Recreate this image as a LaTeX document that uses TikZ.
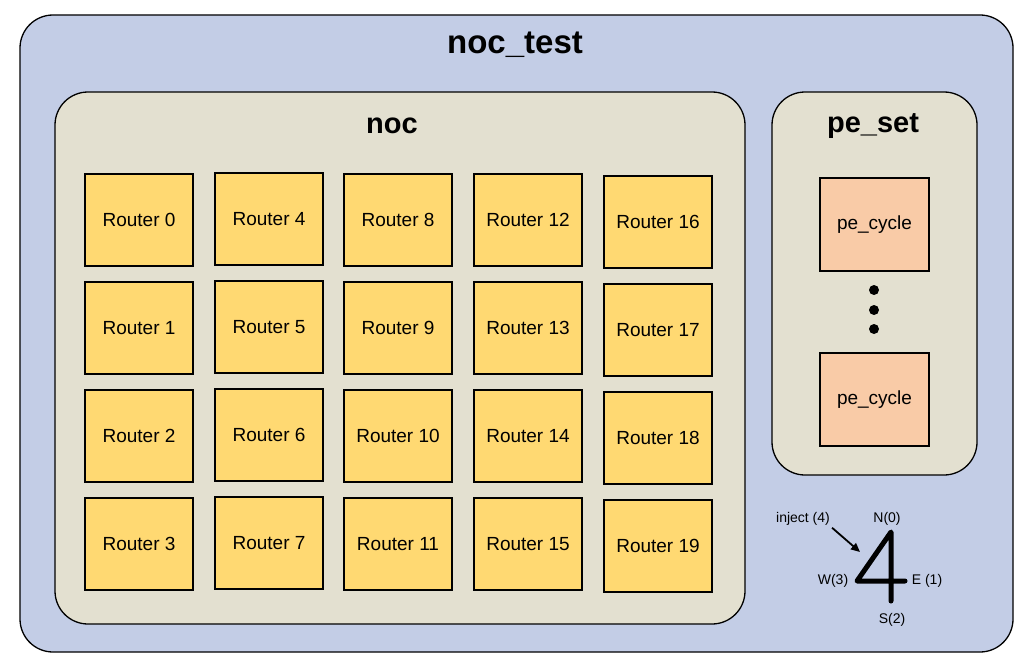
\documentclass[tikz,border=0pt]{standalone}
\usepackage{fontspec}
\setmainfont{Liberation Sans}
\usetikzlibrary{arrows.meta}
\definecolor{outerblue}{HTML}{C3CDE6}
\definecolor{beige}{HTML}{E3E0D0}
\definecolor{routerfill}{HTML}{FFD972}
\definecolor{pefill}{HTML}{F9CBA7}
\tikzset{
  container/.style={draw=black, line width=1.3pt, rounded corners=33pt},
  routerbox/.style={draw=black, line width=1.2pt, fill=routerfill, minimum width=108pt, minimum height=92pt, inner sep=0pt, font=\fontsize{19}{22}\selectfont},
  pebox/.style={draw=black, line width=1.2pt, fill=pefill, minimum width=109pt, minimum height=93pt, inner sep=0pt, font=\fontsize{19}{22}\selectfont},
  titletext/.style={font=\bfseries\fontsize{29}{34}\selectfont, inner sep=0pt},
  dotmark/.style={circle, fill=black, minimum size=10pt, inner sep=0pt},
  legendtext/.style={font=\fontsize{14}{16}\selectfont, inner sep=0pt},
  glyphline/.style={line width=5pt, line cap=round, line join=round},
}
\begin{document}
\begin{tikzpicture}[x=1pt,y=-1pt]
\useasboundingbox (0,0) rectangle (1030,666);
% containers
\draw[container, fill=outerblue] (20,15) rectangle (1013,652);
\draw[container, fill=beige] (55,92) rectangle (745,624);
\draw[container, fill=beige] (772,92) rectangle (977,475);
\node[titletext, font=\bfseries\fontsize{33}{38}\selectfont] (title) at (515,45) {noc\_test};
\node[titletext] (noctitle) at (392,126) {noc};
\node[titletext] (petitle) at (873,126) {pe\_set};
% routers
\foreach \k in {0,...,19} {
  \pgfmathtruncatemacro{\col}{int(\k/4)}
  \pgfmathtruncatemacro{\row}{mod(\k,4)}
  \pgfmathsetmacro{\cx}{{139,269,398,528,658}[\col]}
  \pgfmathsetmacro{\dy}{{0,-1,0,0,2}[\col]}
  \node[routerbox] (r\k) at (\cx, 220+108*\row+\dy) {Router \k};
}
% pe set
\node[pebox] (pe1) at (874.5,224.5) {pe\_cycle};
\node[pebox] (pe2) at (874.5,399.5) {pe\_cycle};
\node[dotmark] (d1) at (874,290) {};
\node[dotmark] (d2) at (874,310) {};
\node[dotmark] (d3) at (874,329) {};
% legend
\coordinate (gtop) at (891,532);
\coordinate (gbot) at (891,601);
\coordinate (gleft) at (857,581);
\coordinate (gright) at (905,581);
\draw[glyphline] (gbot) -- (gtop) -- (gleft) -- (gright);
\node[legendtext] (inj) at (803,519) {inject (4)};
\node[legendtext] (nlab) at (887,519) {N(0)};
\node[legendtext] (wlab) at (833,581) {W(3)};
\node[legendtext] (elab) at (927,581) {E (1)};
\node[legendtext] (slab) at (892,620) {S(2)};
\coordinate (arrend) at (860,552);
\draw[line width=1.8pt, -{Triangle[length=9pt, width=8pt]}] (inj.south east) ++(2,2) coordinate (arrstart) (arrstart) -- (arrend);
\end{tikzpicture}
\end{document}
